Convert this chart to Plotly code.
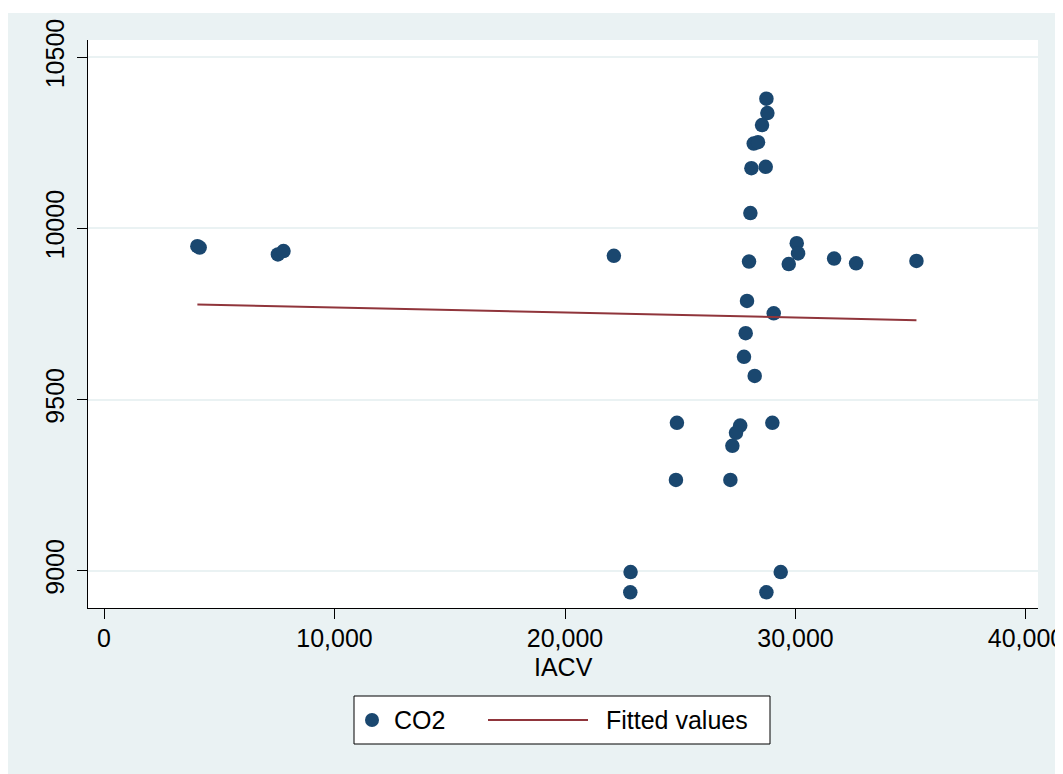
import plotly.graph_objects as go

# ---- data ----
iacv = [4050, 4150, 7544, 7787, 22120, 28738, 28781, 28548, 28187, 28374,
        28087, 28708, 28043, 30054, 30111, 27984, 29707, 31675, 32630, 35248,
        27896, 29055, 27839, 27765, 28230, 24856, 28996, 27601, 27418, 27261,
        24813, 27175, 22845, 29359, 22832, 28738]
co2 = [9948, 9944, 9924, 9934, 9920, 10379, 10337, 10302, 10248, 10252,
       10176, 10180, 10045, 9957, 9927, 9903, 9896, 9912, 9898, 9905,
       9788, 9752, 9694, 9625, 9569, 9432, 9432, 9424, 9403, 9365,
       9265, 9265, 8996, 8996, 8937, 8937]
fit_x = [4050, 35248]
fit_y = [9778, 9732]

x_ticks = [0, 10000, 20000, 30000, 40000]
y_ticks = [9000, 9500, 10000, 10500]
x_title = "IACV"
legend_labels = ["CO2", "Fitted values"]

# ---- style ----
OFF = 8  # page body margin
W, H = 1055, 766
L, R, T, B = 80, 25, 32, 166
NAVY = "#1A476F"
MAROON = "#90353B"
BG = "#EAF2F3"
FONT = "Liberation Sans, Arial, sans-serif"


def px(x):  # page pixel -> paper x
    return (x - OFF - L) / (W - L - R)


def py(y):  # page pixel -> paper y
    return (H - B - (y - OFF)) / (H - T - B)


fig = go.Figure()
fig.add_trace(go.Scatter(x=iacv, y=co2, mode="markers", name=legend_labels[0],
                         marker=dict(color=NAVY, size=14.5, line=dict(width=0)),
                         showlegend=False))
fig.add_trace(go.Scatter(x=fit_x, y=fit_y, mode="lines", name=legend_labels[1],
                         line=dict(color=MAROON, width=2), showlegend=False))

shapes = [
    # thin white strip at top
    dict(type="rect", xref="paper", yref="paper", x0=px(0), x1=px(1100), y0=py(13), y1=py(OFF),
         fillcolor="white", line=dict(width=0), layer="above"),
    # legend box
    dict(type="rect", xref="paper", yref="paper", x0=px(354), x1=px(770), y0=py(744), y1=py(696),
         fillcolor="white", line=dict(color="black", width=1), layer="above"),
    dict(type="circle", xref="paper", yref="paper", x0=px(365), x1=px(379), y0=py(727), y1=py(713),
         fillcolor=NAVY, line=dict(width=0), layer="above"),
    dict(type="line", xref="paper", yref="paper", x0=px(488), x1=px(588), y0=py(720), y1=py(720),
         line=dict(color=MAROON, width=2), layer="above"),
]
annotations = [
    dict(text=legend_labels[0], xref="paper", yref="paper", x=px(392), y=py(720),
         xanchor="left", yanchor="middle", showarrow=False,
         font=dict(family=FONT, size=25, color="black")),
    dict(text=legend_labels[1], xref="paper", yref="paper", x=px(604), y=py(720),
         xanchor="left", yanchor="middle", showarrow=False,
         font=dict(family=FONT, size=25, color="black")),
    dict(text=x_title, xref="paper", yref="paper", x=0.5, y=py(667),
         xanchor="center", yanchor="middle", showarrow=False, borderpad=0,
         font=dict(family=FONT, size=25, color="black")),
]

fig.update_layout(
    width=W, height=H,
    margin=dict(l=L, r=R, t=T, b=B, autoexpand=False),
    paper_bgcolor=BG, plot_bgcolor="white",
    font=dict(family=FONT, size=25, color="black"),
    shapes=shapes, annotations=annotations,
    showlegend=False,
)
fig.update_xaxes(
    range=[-695, 40521], tickvals=x_ticks, tickformat=",d",
    showline=True, linecolor="black", linewidth=1.3, mirror=False,
    ticks="outside", ticklen=10, tickwidth=1.3, tickcolor="black",
    showgrid=False, zeroline=False, ticklabeloverflow="allow",
    ticklabelstandoff=-2,
    tickfont=dict(family=FONT, size=25, color="black"),
)
fig.update_yaxes(
    range=[8891, 10550.5], tickvals=y_ticks, tickformat="d", tickangle=-90,
    showline=True, linecolor="black", linewidth=1.3, mirror=False,
    ticks="outside", ticklen=10, tickwidth=1.3, tickcolor="black",
    showgrid=True, gridcolor=BG, gridwidth=2, zeroline=False,
    ticklabelstandoff=3, ticklabeloverflow="allow",
    tickfont=dict(family=FONT, size=25, color="black"),
)

fig.write_html("out.html")
